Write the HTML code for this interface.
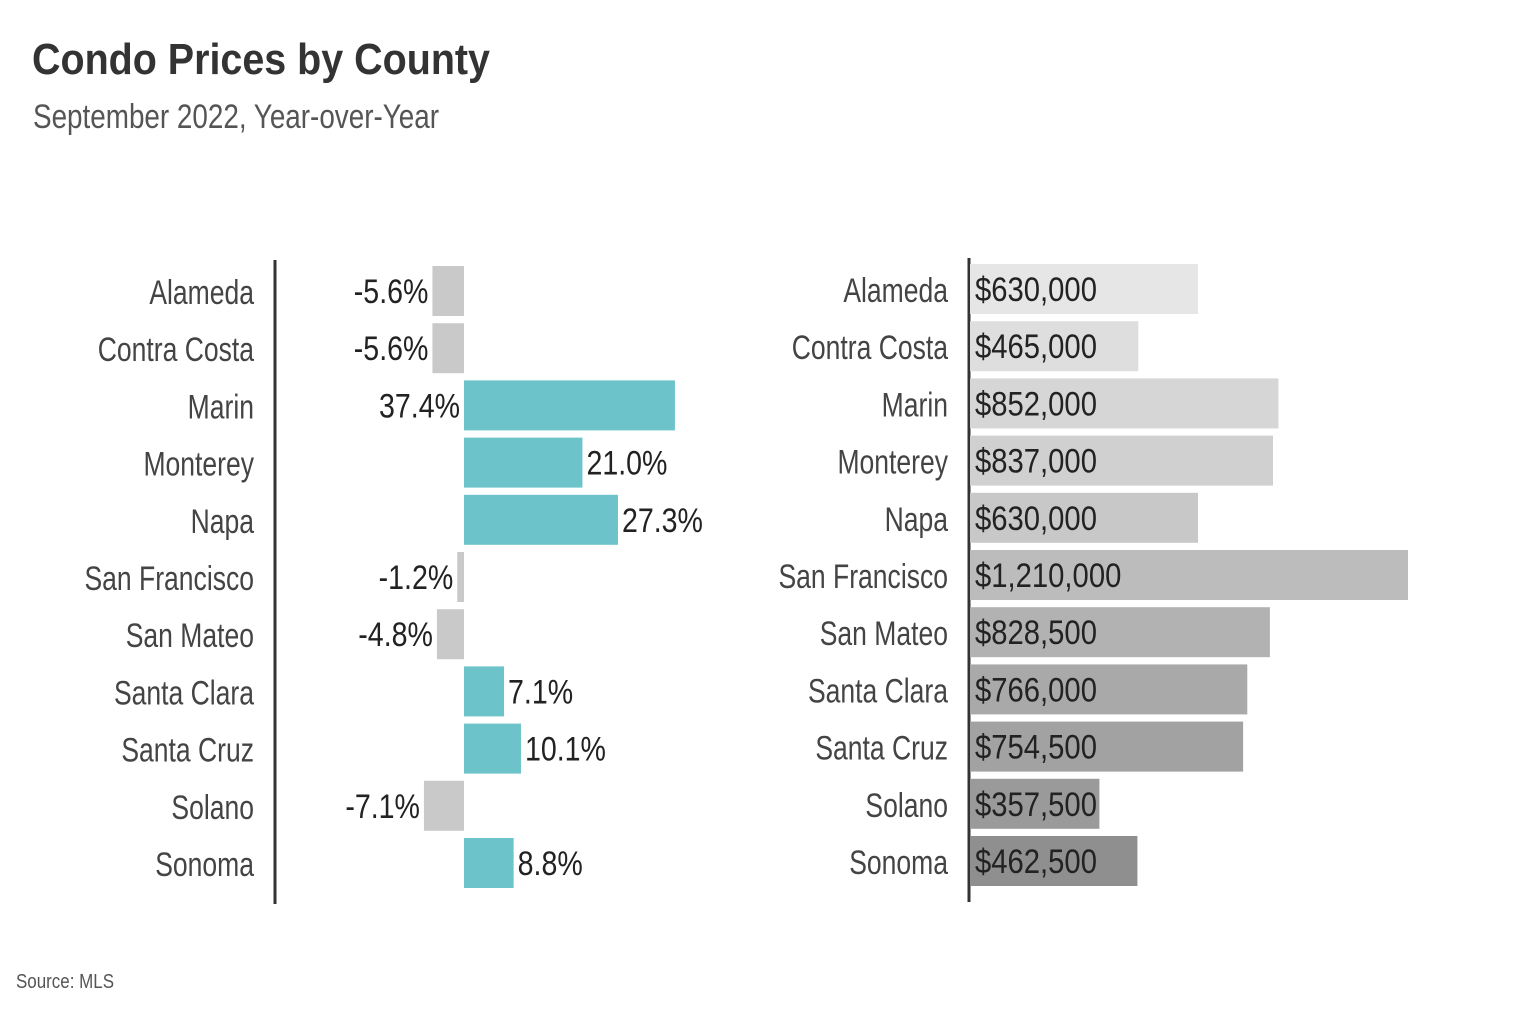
<!DOCTYPE html>
<html><head><meta charset="utf-8"><style>
body{margin:0;background:#fff;width:1522px;height:1008px;overflow:hidden}
svg text{font-family:"Liberation Sans",sans-serif}
</style></head><body>
<svg id="chart" width="1522" height="1008" xmlns="http://www.w3.org/2000/svg">
<text x="32" y="74" font-size="44" font-weight="bold" fill="#333" textLength="458" lengthAdjust="spacingAndGlyphs">Condo Prices by County</text>
<text x="33" y="128" font-size="34" fill="#555" textLength="406" lengthAdjust="spacingAndGlyphs">September 2022, Year-over-Year</text>
<text x="16" y="988" font-size="20" fill="#555" textLength="98" lengthAdjust="spacingAndGlyphs">Source:  MLS</text>
<line x1="275" y1="260" x2="275" y2="904" stroke="#333" stroke-width="3"/>
<line x1="969" y1="258" x2="969" y2="902" stroke="#333" stroke-width="3"/>
<g id="g"></g>
</svg>
<script>
const counties=["Alameda","Contra Costa","Marin","Monterey","Napa","San Francisco","San Mateo","Santa Clara","Santa Cruz","Solano","Sonoma"];
const pctChange=[-5.6,-5.6,37.4,21.0,27.3,-1.2,-4.8,7.1,10.1,-7.1,8.8];
const prices=[630000,465000,852000,837000,630000,1210000,828500,766000,754500,357500,462500];
const grays=["#e6e6e6","#dedede","#d6d6d6","#d0d0d0","#c8c8c8","#bcbcbc","#b2b2b2","#a9a9a9","#a2a2a2","#9a9a9a","#8f8f8f"];
const NS="http://www.w3.org/2000/svg";
const g=document.getElementById('g');
const zeroX=464,pxPerPct=5.64;
const xPct=v=>zeroX+v*pxPerPct;
const priceX0=970,pxPerDollar=438/1210000;
const xPrice=v=>priceX0+v*pxPerDollar;
const rowY=i=>264+i*57.2;
function mk(tag,attrs,txt){const e=document.createElementNS(NS,tag);for(const k in attrs)e.setAttribute(k,attrs[k]);if(txt!==undefined)e.textContent=txt;g.appendChild(e);return e;}
function condense(t,f){const L=t.getComputedTextLength();t.setAttribute('textLength',L*f);t.setAttribute('lengthAdjust','spacingAndGlyphs');}
counties.forEach((c,i)=>{
  const y=rowY(i);
  let t=mk('text',{x:254,y:y+40,'font-size':34,fill:'#444','text-anchor':'end'},c);
  
  
  condense(t,0.78);
  const v=pctChange[i];
  const x1=Math.min(xPct(0),xPct(v)),w=Math.abs(xPct(v)-xPct(0));
  let r=mk('rect',{x:x1,y:y+2,width:w,height:50,fill:v>=0?'#6cc4ca':'#c9c9c9'});
  
  
  const lbl=v.toFixed(1)+'%';
  const right=v>=0&&v<30;
  let tv=mk('text',{x:right?xPct(v)+4:Math.min(xPct(v),xPct(0))-4,y:y+39,'font-size':34,fill:'#222','text-anchor':right?'start':'end'},lbl);
  
  
  condense(tv,0.84);
  let t2=mk('text',{x:948,y:y+38,'font-size':34,fill:'#444','text-anchor':'end'},c);
  
  
  condense(t2,0.78);
  let r2=mk('rect',{x:priceX0,y:y,width:xPrice(prices[i])-priceX0,height:50,fill:grays[i]});
  
  
  let tp=mk('text',{x:975,y:y+37,'font-size':34,fill:'#222'},'$'+prices[i].toLocaleString('en-US'));
  
  
  condense(tp,0.86);
});
</script>
</body></html>
